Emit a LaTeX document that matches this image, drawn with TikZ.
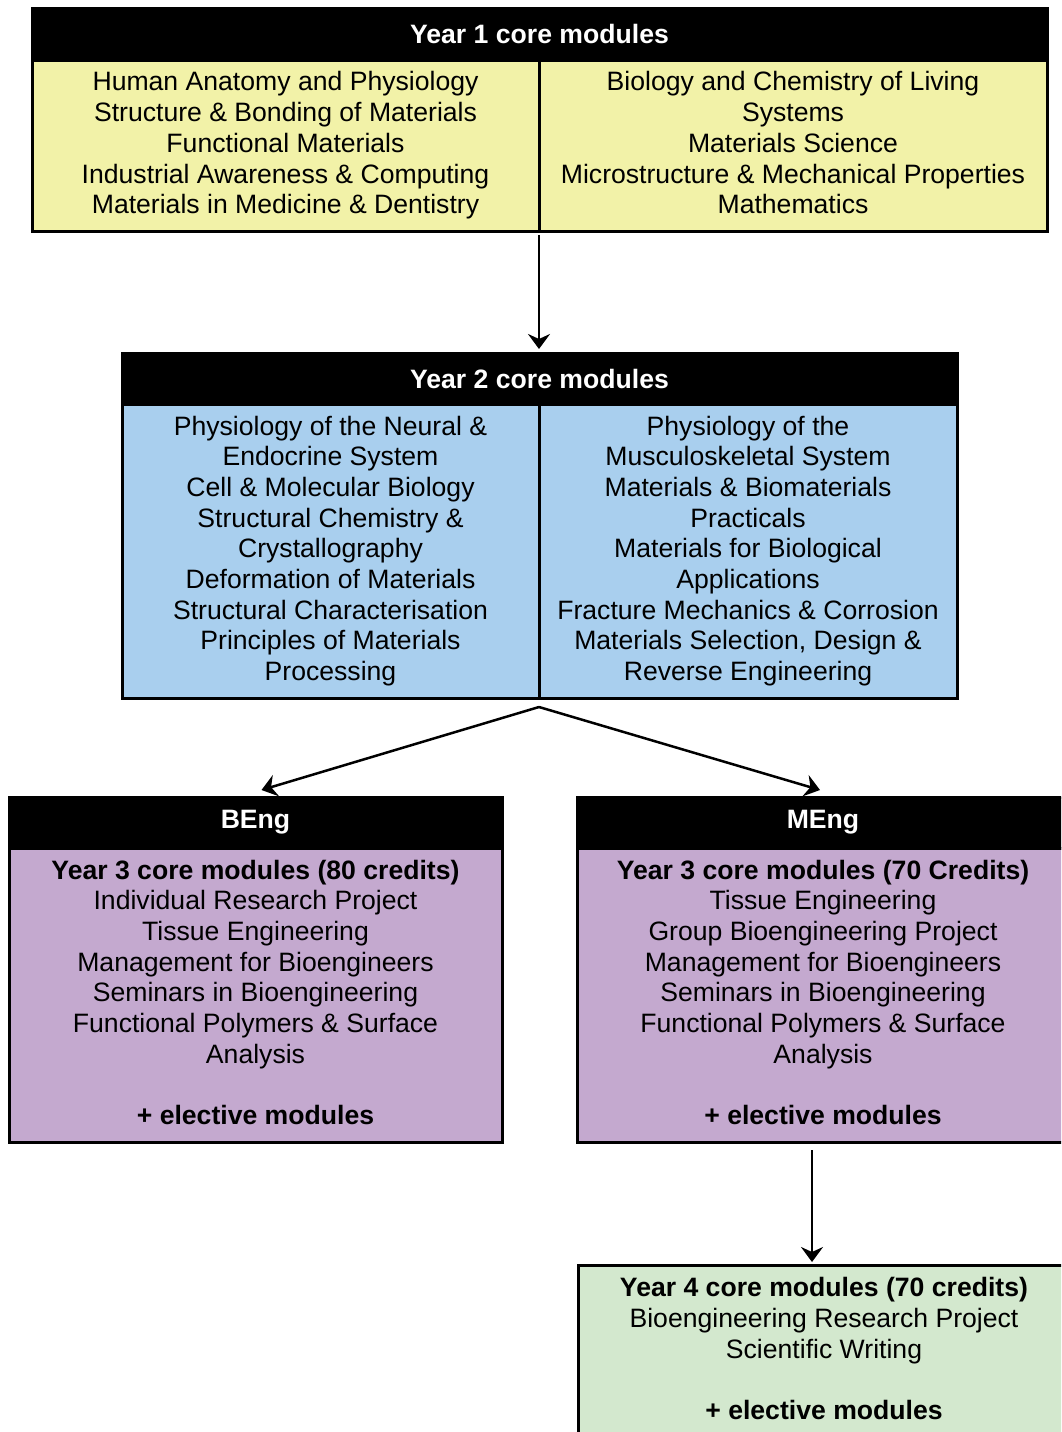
\documentclass[tikz,border=0pt]{standalone}
\usepackage{fontspec}
\setmainfont{Liberation Sans}
\usetikzlibrary{arrows.meta,positioning}
\definecolor{yrone}{HTML}{F2F2A8}
\definecolor{yrtwo}{HTML}{A9CFEE}
\definecolor{yrthree}{HTML}{C4A9CF}
\definecolor{yrfour}{HTML}{D3E8CE}
\newcommand\bodyfont{\fontsize{26.6}{30.7}\selectfont}
\newcommand\topstrut{\rule{0pt}{29.5pt}}
\newcommand\botstrut{\rule[-5.6pt]{0pt}{5.6pt}}
\tikzset{
  hdr/.style={draw=black, fill=black, text=white, font=\bodyfont\bfseries,
    line width=3pt, inner sep=0pt, outer sep=0pt, minimum height=52pt, anchor=north west},
  col/.style={draw=black, line width=3pt, inner sep=0pt, outer sep=0pt, align=center,
    font=\bodyfont, anchor=north west,
    execute at begin node=\topstrut, execute at end node=\botstrut},
  arr/.style={-{Stealth[length=15pt,width=22pt,inset=5pt]}, line width=2.5pt},
}
\begin{document}
\begin{tikzpicture}[x=1pt,y=1pt]
		%%%%% PAGE %%%%%
		\clip (0,0) rectangle (1061,-1432);
		
		%%%%% YEAR 1 %%%%%
		\node[hdr, minimum width=1015pt] (y1H) at (32,-8) {Year 1 core modules};
		\node[col, fill=yrone, minimum width=507pt, minimum height=171pt] (y1L) at (y1H.south west)
			{Human Anatomy and Physiology\\ Structure \& Bonding of Materials\\ Functional Materials\\
			 Industrial Awareness \& Computing\\ Materials in Medicine \& Dentistry};
		\node[col, fill=yrone, minimum width=508pt, minimum height=171pt] (y1R) at (y1L.north east)
			{Biology and Chemistry of Living\\ Systems\\ Materials Science\\
			 Microstructure \& Mechanical Properties\\ Mathematics};
		
		%%%%% YEAR 2 %%%%%
		\node[hdr, minimum width=835pt, minimum height=51pt] (y2H) at (122,-353) {Year 2 core modules};
		\node[col, fill=yrtwo, minimum width=417pt, minimum height=294pt] (y2L) at (y2H.south west)
			{Physiology of the Neural \&\\ Endocrine System\\ Cell \& Molecular Biology\\
			 Structural Chemistry \&\\ Crystallography\\ Deformation of Materials\\
			 Structural Characterisation\\ Principles of Materials\\ Processing};
		\node[col, fill=yrtwo, minimum width=418pt, minimum height=294pt] (y2R) at (y2L.north east)
			{Physiology of the\\ Musculoskeletal System\\ Materials \& Biomaterials\\
			 Practicals\\ Materials for Biological\\ Applications\\
			 Fracture Mechanics \& Corrosion\\ Materials Selection, Design \&\\ Reverse Engineering};
		
		%%%%% YEAR 3 %%%%%
		\node[hdr, minimum width=493pt, minimum height=51pt] (beH) at (9,-797) {BEng};
		\node[col, fill=yrthree, minimum width=493pt, minimum height=294pt] (beB) at (beH.south west)
			{\textbf{Year 3 core modules (80 credits)}\\ Individual Research Project\\ Tissue Engineering\\
			 Management for Bioengineers\\ Seminars in Bioengineering\\ Functional Polymers \& Surface\\
			 Analysis\\ ~\\ \textbf{+ elective modules}};
		
		\node[hdr, minimum width=492pt, minimum height=51pt] (meH) at (577,-797) {MEng};
		\node[col, fill=yrthree, minimum width=492pt, minimum height=294pt] (meB) at (meH.south west)
			{\textbf{Year 3 core modules (70 Credits)}\\ Tissue Engineering\\ Group Bioengineering Project\\
			 Management for Bioengineers\\ Seminars in Bioengineering\\ Functional Polymers \& Surface\\
			 Analysis\\ ~\\ \textbf{+ elective modules}};
		
		%%%%% YEAR 4 %%%%%
		\node[col, fill=yrfour, minimum width=492pt, minimum height=173pt] (y4B) at (578,-1265)
			{\textbf{Year 4 core modules (70 credits)}\\ Bioengineering Research Project\\
			 Scientific Writing\\ ~\\ \textbf{+ elective modules}};
		
		%%%%% ARROWS %%%%%
		\draw[arr] ([yshift=-4pt]y1L.south east) -- ([xshift=-0.5pt,yshift=4pt]y2H.north);
		\coordinate (fork) at ([yshift=-9pt]y2L.south east);
		\draw[arr] (fork) -- ([xshift=6pt,yshift=7pt]beH.north);
		\draw[arr] (fork) -- ([xshift=-3pt,yshift=7pt]meH.north);
		\draw[arr] ([xshift=-11pt,yshift=-8pt]meB.south) -- ([xshift=-12pt,yshift=3pt]y4B.north);
		
		%%%%% END %%%%%
\end{tikzpicture}
\end{document}
